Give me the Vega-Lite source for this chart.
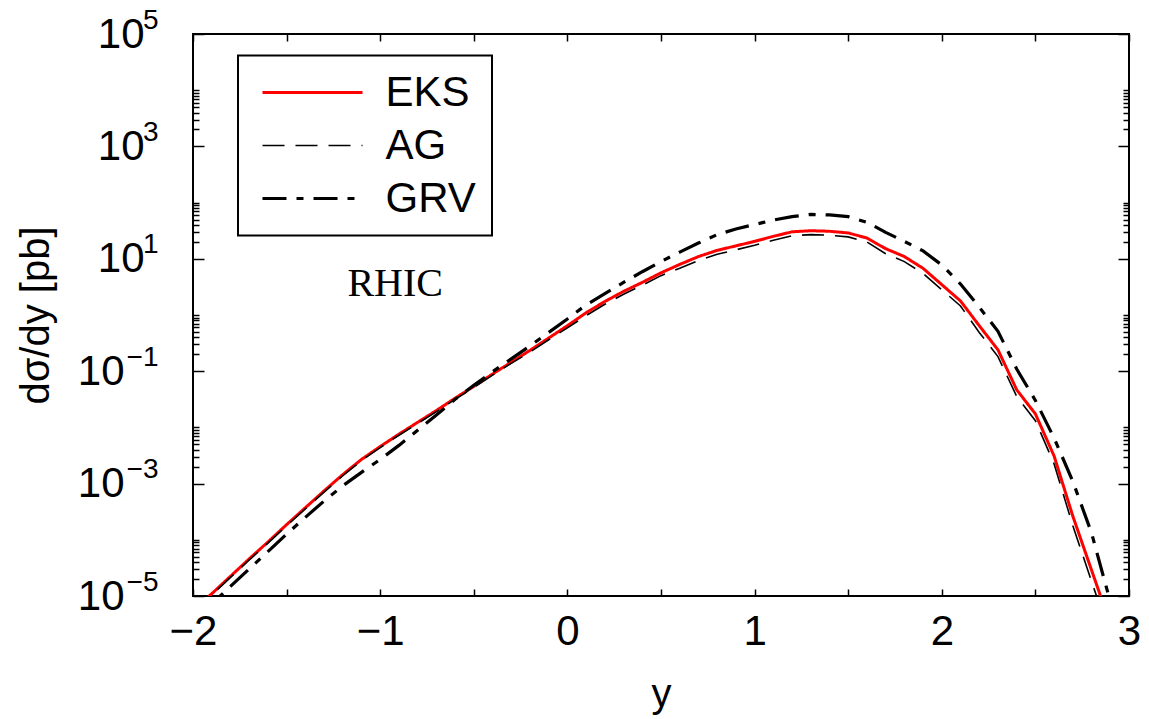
{
  "$schema": "https://vega.github.io/schema/vega-lite/v6.json",
  "width": 936,
  "height": 562,
  "autosize": "none",
  "padding": {"left": 193, "top": 34, "right": 20, "bottom": 123},
  "background": "white",
  "config": {
    "view": {"stroke": "black", "strokeWidth": 2},
    "axis": {"grid": false, "domain": false, "labelFont": "Liberation Sans", "titleFont": "Liberation Sans", "labelColor": "black", "titleColor": "black", "tickColor": "black", "tickWidth": 1.5, "labelFontSize": 42, "titleFontSize": 40, "titleFontWeight": "normal", "labelOverlap": false, "labelFlush": false, "labelBound": false}
  },
  "data": {"values": [
    {"pdf":"EKS","x":-2.0,"v":5.495e-6},{"pdf":"EKS","x":-1.9,"v":1.096e-5},{"pdf":"EKS","x":-1.8,"v":2.239e-5},{"pdf":"EKS","x":-1.7,"v":4.571e-5},{"pdf":"EKS","x":-1.6,"v":9.120e-5},{"pdf":"EKS","x":-1.5,"v":1.862e-4},{"pdf":"EKS","x":-1.4,"v":3.715e-4},{"pdf":"EKS","x":-1.3,"v":7.413e-4},{"pdf":"EKS","x":-1.2,"v":1.445e-3},{"pdf":"EKS","x":-1.1,"v":2.692e-3},{"pdf":"EKS","x":-1.0,"v":4.571e-3},{"pdf":"EKS","x":-0.9,"v":7.586e-3},{"pdf":"EKS","x":-0.8,"v":1.230e-2},{"pdf":"EKS","x":-0.7,"v":1.995e-2},{"pdf":"EKS","x":-0.6,"v":3.311e-2},{"pdf":"EKS","x":-0.5,"v":5.370e-2},{"pdf":"EKS","x":-0.4,"v":8.913e-2},{"pdf":"EKS","x":-0.3,"v":0.1445},{"pdf":"EKS","x":-0.2,"v":0.2344},{"pdf":"EKS","x":-0.1,"v":0.3890},{"pdf":"EKS","x":0.0,"v":0.6457},{"pdf":"EKS","x":0.1,"v":1.096},{"pdf":"EKS","x":0.2,"v":1.738},{"pdf":"EKS","x":0.3,"v":2.630},{"pdf":"EKS","x":0.4,"v":3.802},{"pdf":"EKS","x":0.5,"v":5.623},{"pdf":"EKS","x":0.6,"v":7.943},{"pdf":"EKS","x":0.7,"v":10.96},{"pdf":"EKS","x":0.8,"v":14.13},{"pdf":"EKS","x":0.9,"v":16.98},{"pdf":"EKS","x":1.0,"v":20.42},{"pdf":"EKS","x":1.1,"v":25.12},{"pdf":"EKS","x":1.2,"v":30.20},{"pdf":"EKS","x":1.3,"v":31.62},{"pdf":"EKS","x":1.4,"v":30.90},{"pdf":"EKS","x":1.5,"v":28.84},{"pdf":"EKS","x":1.6,"v":23.44},{"pdf":"EKS","x":1.7,"v":15.14},{"pdf":"EKS","x":1.8,"v":10.96},{"pdf":"EKS","x":1.9,"v":6.761},{"pdf":"EKS","x":2.0,"v":3.467},{"pdf":"EKS","x":2.1,"v":1.778},{"pdf":"EKS","x":2.2,"v":0.6457},{"pdf":"EKS","x":2.3,"v":0.2399},{"pdf":"EKS","x":2.4,"v":4.677e-2},{"pdf":"EKS","x":2.5,"v":1.738e-2},{"pdf":"EKS","x":2.6,"v":3.090e-3},{"pdf":"EKS","x":2.7,"v":2.630e-4},{"pdf":"EKS","x":2.8,"v":2.884e-5},{"pdf":"EKS","x":2.9,"v":3.162e-6},
    {"pdf":"AG","x":-2.0,"v":5.248e-6},{"pdf":"AG","x":-1.9,"v":1.047e-5},{"pdf":"AG","x":-1.8,"v":2.138e-5},{"pdf":"AG","x":-1.7,"v":4.365e-5},{"pdf":"AG","x":-1.6,"v":8.710e-5},{"pdf":"AG","x":-1.5,"v":1.778e-4},{"pdf":"AG","x":-1.4,"v":3.548e-4},{"pdf":"AG","x":-1.3,"v":7.079e-4},{"pdf":"AG","x":-1.2,"v":1.380e-3},{"pdf":"AG","x":-1.1,"v":2.570e-3},{"pdf":"AG","x":-1.0,"v":4.365e-3},{"pdf":"AG","x":-0.9,"v":7.244e-3},{"pdf":"AG","x":-0.8,"v":1.175e-2},{"pdf":"AG","x":-0.7,"v":1.905e-2},{"pdf":"AG","x":-0.6,"v":3.162e-2},{"pdf":"AG","x":-0.5,"v":5.129e-2},{"pdf":"AG","x":-0.4,"v":8.511e-2},{"pdf":"AG","x":-0.3,"v":0.1380},{"pdf":"AG","x":-0.2,"v":0.2188},{"pdf":"AG","x":-0.1,"v":0.3631},{"pdf":"AG","x":0.0,"v":0.5888},{"pdf":"AG","x":0.1,"v":0.9772},{"pdf":"AG","x":0.2,"v":1.549},{"pdf":"AG","x":0.3,"v":2.344},{"pdf":"AG","x":0.4,"v":3.388},{"pdf":"AG","x":0.5,"v":5.012},{"pdf":"AG","x":0.6,"v":6.761},{"pdf":"AG","x":0.7,"v":9.333},{"pdf":"AG","x":0.8,"v":12.02},{"pdf":"AG","x":0.9,"v":14.45},{"pdf":"AG","x":1.0,"v":17.38},{"pdf":"AG","x":1.1,"v":21.38},{"pdf":"AG","x":1.2,"v":25.70},{"pdf":"AG","x":1.3,"v":26.92},{"pdf":"AG","x":1.4,"v":26.30},{"pdf":"AG","x":1.5,"v":24.55},{"pdf":"AG","x":1.6,"v":19.95},{"pdf":"AG","x":1.7,"v":12.30},{"pdf":"AG","x":1.8,"v":8.913},{"pdf":"AG","x":1.9,"v":5.495},{"pdf":"AG","x":2.0,"v":2.818},{"pdf":"AG","x":2.1,"v":1.445},{"pdf":"AG","x":2.2,"v":0.4898},{"pdf":"AG","x":2.3,"v":0.1820},{"pdf":"AG","x":2.4,"v":3.548e-2},{"pdf":"AG","x":2.5,"v":1.318e-2},{"pdf":"AG","x":2.6,"v":2.239e-3},{"pdf":"AG","x":2.7,"v":1.778e-4},{"pdf":"AG","x":2.8,"v":1.820e-5},{"pdf":"AG","x":2.9,"v":1.905e-6},
    {"pdf":"GRV","x":-2.0,"v":3.548e-6},{"pdf":"GRV","x":-1.9,"v":7.244e-6},{"pdf":"GRV","x":-1.8,"v":1.479e-5},{"pdf":"GRV","x":-1.7,"v":3.020e-5},{"pdf":"GRV","x":-1.6,"v":6.166e-5},{"pdf":"GRV","x":-1.5,"v":1.259e-4},{"pdf":"GRV","x":-1.4,"v":2.512e-4},{"pdf":"GRV","x":-1.3,"v":4.898e-4},{"pdf":"GRV","x":-1.2,"v":9.120e-4},{"pdf":"GRV","x":-1.1,"v":1.585e-3},{"pdf":"GRV","x":-1.0,"v":2.692e-3},{"pdf":"GRV","x":-0.9,"v":4.786e-3},{"pdf":"GRV","x":-0.8,"v":8.913e-3},{"pdf":"GRV","x":-0.7,"v":1.660e-2},{"pdf":"GRV","x":-0.6,"v":3.162e-2},{"pdf":"GRV","x":-0.5,"v":5.623e-2},{"pdf":"GRV","x":-0.4,"v":9.772e-2},{"pdf":"GRV","x":-0.3,"v":0.1660},{"pdf":"GRV","x":-0.2,"v":0.2818},{"pdf":"GRV","x":-0.1,"v":0.4898},{"pdf":"GRV","x":0.0,"v":0.8511},{"pdf":"GRV","x":0.1,"v":1.514},{"pdf":"GRV","x":0.2,"v":2.399},{"pdf":"GRV","x":0.3,"v":3.802},{"pdf":"GRV","x":0.4,"v":5.888},{"pdf":"GRV","x":0.5,"v":8.913},{"pdf":"GRV","x":0.6,"v":13.18},{"pdf":"GRV","x":0.7,"v":19.05},{"pdf":"GRV","x":0.8,"v":26.92},{"pdf":"GRV","x":0.9,"v":33.88},{"pdf":"GRV","x":1.0,"v":40.74},{"pdf":"GRV","x":1.1,"v":48.98},{"pdf":"GRV","x":1.2,"v":56.23},{"pdf":"GRV","x":1.3,"v":61.66},{"pdf":"GRV","x":1.4,"v":60.26},{"pdf":"GRV","x":1.5,"v":56.23},{"pdf":"GRV","x":1.6,"v":44.67},{"pdf":"GRV","x":1.7,"v":29.51},{"pdf":"GRV","x":1.8,"v":20.42},{"pdf":"GRV","x":1.9,"v":13.80},{"pdf":"GRV","x":2.0,"v":7.762},{"pdf":"GRV","x":2.1,"v":3.548},{"pdf":"GRV","x":2.2,"v":1.380},{"pdf":"GRV","x":2.3,"v":0.5129},{"pdf":"GRV","x":2.4,"v":0.1096},{"pdf":"GRV","x":2.5,"v":3.020e-2},{"pdf":"GRV","x":2.6,"v":6.457e-3},{"pdf":"GRV","x":2.7,"v":1.096e-3},{"pdf":"GRV","x":2.8,"v":1.318e-4},{"pdf":"GRV","x":2.9,"v":7.943e-6}
  ]},
  "resolve": {"axis": {"x": "independent", "y": "independent"}},
  "layer": [
    {
      "mark": {"type": "line", "clip": true},
      "encoding": {
        "x": {"field": "x", "type": "quantitative", "scale": {"domain": [-2, 3], "nice": false, "zero": false},
              "axis": {"orient": "bottom", "values": [-2,-1.5,-1,-0.5,0,0.5,1,1.5,2,2.5,3], "labels": false, "tickSize": -7, "title": null}},
        "y": {"field": "v", "type": "quantitative", "scale": {"type": "log", "domain": [1e-5, 1e5], "nice": false},
              "axis": {"orient": "left", "values": [1e-5, 1e-3, 0.1, 10, 1000, 100000], "labels": false, "tickSize": -11, "title": null}},
        "color": {"field": "pdf", "type": "nominal", "scale": {"domain": ["EKS","AG","GRV"], "range": ["#ff0000","#000000","#000000"]},
                  "legend": {"title": null, "orient": "none", "legendX": 45, "legendY": 21.5, "strokeColor": "black", "padding": 16, "symbolType": "M0,0H20", "symbolSize": 100, "symbolOffset": -12.5, "labelFontSize": 42, "labelFont": "Liberation Sans", "labelColor": "black", "labelOffset": 102, "rowPadding": 11, "encode": {"legend": {"update": {"strokeWidth": {"value": 2}}}}}},
        "strokeDash": {"field": "pdf", "type": "nominal", "scale": {"domain": ["EKS","AG","GRV"], "range": [[1,0],[22,11],[24,10,7,10]]},
                  "legend": {"title": null, "orient": "none", "legendX": 45, "legendY": 21.5, "strokeColor": "black", "padding": 16, "symbolType": "M0,0H20", "symbolSize": 100, "symbolOffset": -12.5, "labelFontSize": 42, "labelFont": "Liberation Sans", "labelColor": "black", "labelOffset": 102, "rowPadding": 11}},
        "strokeWidth": {"field": "pdf", "type": "nominal", "scale": {"type": "ordinal", "domain": ["EKS","AG","GRV"], "range": [3,1.6,3.2]},
                  "legend": {"title": null, "orient": "none", "legendX": 45, "legendY": 21.5, "strokeColor": "black", "padding": 16, "symbolType": "M0,0H20", "symbolSize": 100, "symbolOffset": -12.5, "labelFontSize": 42, "labelFont": "Liberation Sans", "labelColor": "black", "labelOffset": 102, "rowPadding": 11}}
      }
    },
    {
      "mark": {"type": "point", "opacity": 0},
      "encoding": {
        "x": {"field": "x", "type": "quantitative", "scale": {"domain": [-2, 3], "nice": false, "zero": false},
              "axis": {"orient": "top", "values": [-2,-1.5,-1,-0.5,0,0.5,1,1.5,2,2.5,3], "labels": false, "tickSize": -7, "title": null}},
        "y": {"field": "v", "type": "quantitative", "scale": {"type": "log", "domain": [1e-5, 1e5], "nice": false},
              "axis": {"orient": "right", "values": [1e-5, 1e-3, 0.1, 10, 1000, 100000], "labels": false, "tickSize": -11, "title": null}}
      }
    },
    {
      "mark": {"type": "point", "opacity": 0},
      "encoding": {
        "x": {"field": "x", "type": "quantitative", "scale": {"domain": [-2, 3], "nice": false, "zero": false},
              "axis": {"orient": "bottom", "values": [-2,-1,0,1,2,3], "ticks": false, "tickSize": 0, "labelPadding": 15, "title": "y", "titlePadding": 22}},
        "y": {"field": "v", "type": "quantitative", "scale": {"type": "log", "domain": [1e-5, 1e5], "nice": false},
              "axis": {"orient": "left", "values": [2e-5,3e-5,4e-5,5e-5,6e-5,7e-5,8e-5,9e-5,1e-4,2e-3,3e-3,4e-3,5e-3,6e-3,7e-3,8e-3,9e-3,1e-2,0.2,0.3,0.4,0.5,0.6,0.7,0.8,0.9,1,20,30,40,50,60,70,80,90,100,2000,3000,4000,5000,6000,7000,8000,9000,10000], "labels": false, "tickSize": -6, "title": null}}
      }
    },
    {
      "mark": {"type": "point", "opacity": 0},
      "encoding": {
        "x": {"field": "x", "type": "quantitative", "scale": {"domain": [-2, 3], "nice": false, "zero": false}, "axis": null},
        "y": {"field": "v", "type": "quantitative", "scale": {"type": "log", "domain": [1e-5, 1e5], "nice": false},
              "axis": {"orient": "right", "values": [2e-5,3e-5,4e-5,5e-5,6e-5,7e-5,8e-5,9e-5,1e-4,2e-3,3e-3,4e-3,5e-3,6e-3,7e-3,8e-3,9e-3,1e-2,0.2,0.3,0.4,0.5,0.6,0.7,0.8,0.9,1,20,30,40,50,60,70,80,90,100,2000,3000,4000,5000,6000,7000,8000,9000,10000], "labels": false, "tickSize": -6, "title": null}}
      }
    },
    {
      "mark": {"type": "point", "opacity": 0},
      "encoding": {
        "x": {"field": "x", "type": "quantitative", "scale": {"domain": [-2, 3], "nice": false, "zero": false}, "axis": null},
        "y": {"field": "v", "type": "quantitative", "scale": {"type": "log", "domain": [1e-5, 1e5], "nice": false},
              "axis": {"orient": "left", "values": [10, 1000, 100000], "ticks": false, "tickSize": 0, "labelExpr": "'10'", "labelPadding": 49, "title": "dσ/dy [pb]", "titlePadding": 41}}
      }
    },
    {
      "mark": {"type": "point", "opacity": 0},
      "encoding": {
        "x": {"field": "x", "type": "quantitative", "scale": {"domain": [-2, 3], "nice": false, "zero": false}, "axis": null},
        "y": {"field": "v", "type": "quantitative", "scale": {"type": "log", "domain": [1e-5, 1e5], "nice": false},
              "axis": {"orient": "left", "values": [1e-5, 1e-3, 0.1], "ticks": false, "tickSize": 0, "labelExpr": "'10'", "labelPadding": 69, "title": null}}
      }
    },
    {
      "mark": {"type": "point", "opacity": 0},
      "encoding": {
        "x": {"field": "x", "type": "quantitative", "scale": {"domain": [-2, 3], "nice": false, "zero": false}, "axis": null},
        "y": {"field": "v", "type": "quantitative", "scale": {"type": "log", "domain": [1e-5, 1e5], "nice": false},
              "axis": {"orient": "left", "values": [1e-5, 1e-3, 0.1, 10, 1000, 100000], "ticks": false, "tickSize": 0, "labelExpr": "replace(format(round(log(datum.value)/LN10), 'd'), '-', '−')", "labelFontSize": 28, "labelOffset": -14, "labelPadding": 35, "title": null}}
      }
    },
    {
      "data": {"values": [{"label": "RHIC", "x": -0.92, "v": 3.6}]},
      "mark": {"type": "text", "font": "Liberation Serif", "fontSize": 40, "color": "black"},
      "encoding": {
        "x": {"field": "x", "type": "quantitative", "scale": {"domain": [-2, 3], "nice": false, "zero": false}, "axis": null},
        "y": {"field": "v", "type": "quantitative", "scale": {"type": "log", "domain": [1e-5, 1e5], "nice": false}, "axis": null},
        "text": {"field": "label"}
      }
    }
  ]
}
